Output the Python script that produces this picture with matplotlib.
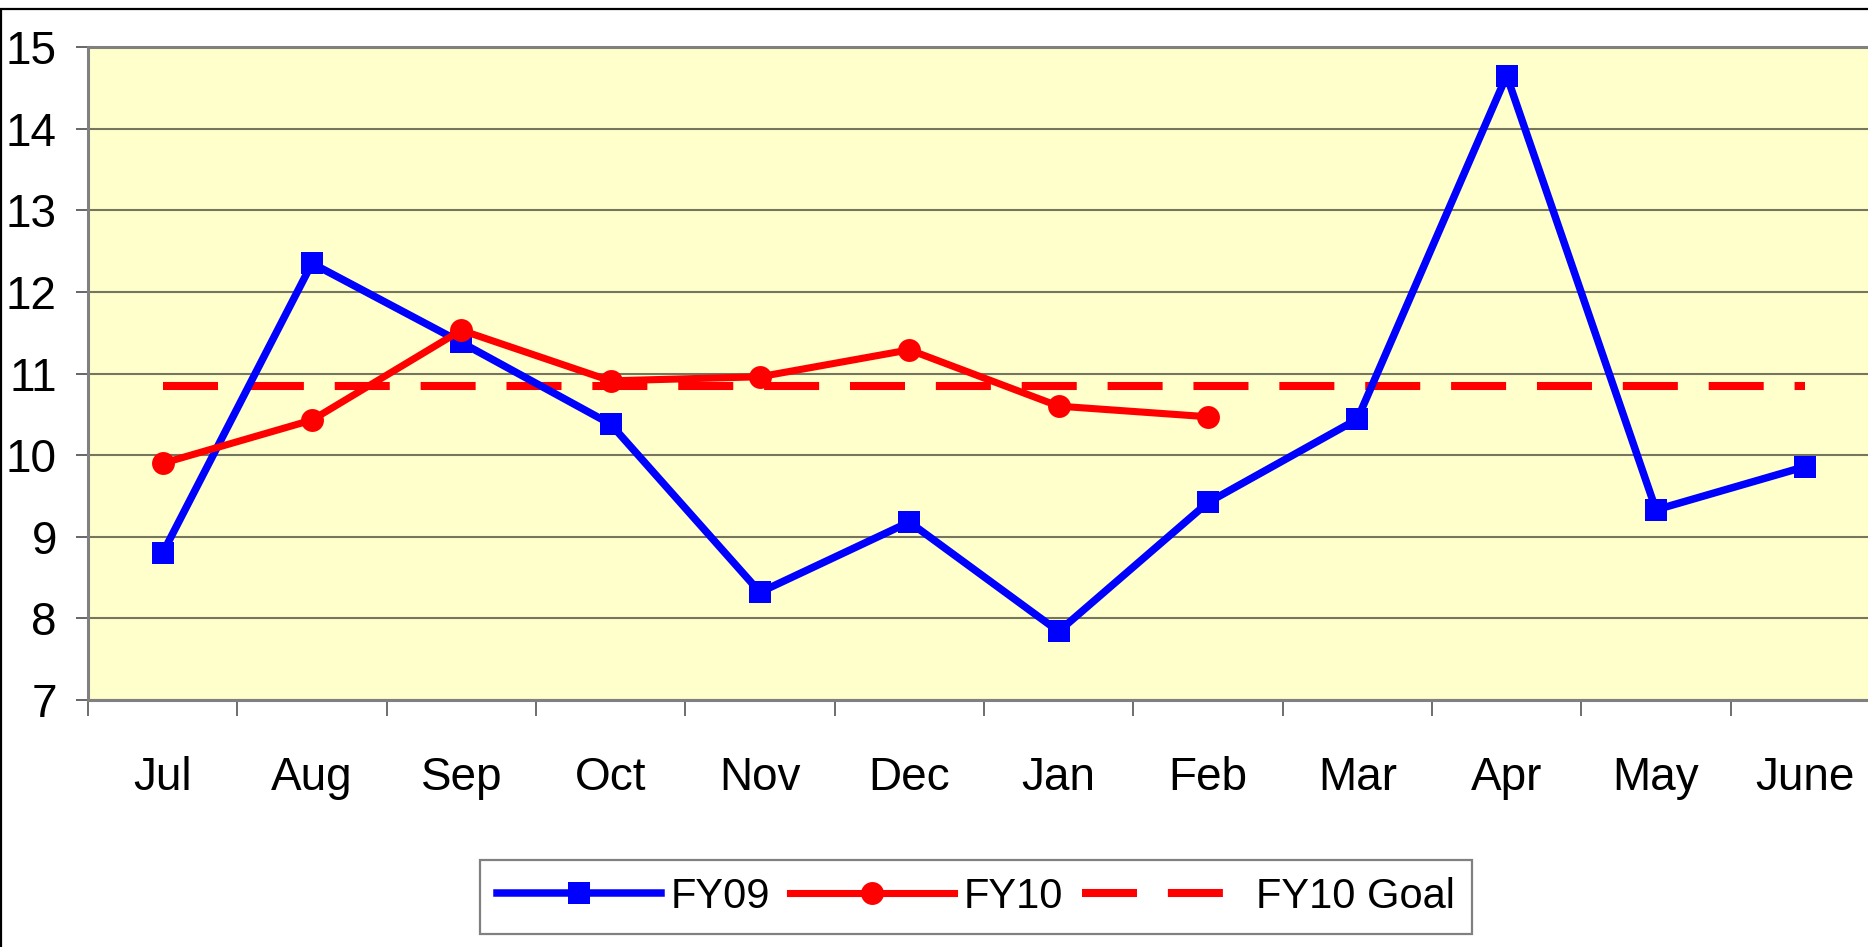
import matplotlib
matplotlib.use("Agg")
import matplotlib.pyplot as plt
from matplotlib import font_manager
from matplotlib.patches import Rectangle
from matplotlib.lines import Line2D

months = ["Jul", "Aug", "Sep", "Oct", "Nov", "Dec", "Jan", "Feb", "Mar", "Apr", "May", "June"]
fy09 = [8.80, 12.35, 11.38, 10.38, 8.32, 9.18, 7.84, 9.42, 10.44, 14.65, 9.33, 9.86]
fy10 = [9.90, 10.43, 11.53, 10.91, 10.96, 11.29, 10.60, 10.47]
goal = 10.85
yticks = [7, 8, 9, 10, 11, 12, 13, 14, 15]

names = {f.name for f in font_manager.fontManager.ttflist}
main_font = "Liberation Sans" if "Liberation Sans" in names else "DejaVu Sans"
plt.rcParams["font.family"] = [main_font, "DejaVu Sans"]

fig = plt.figure(figsize=(18.68, 9.47), dpi=100)
ax = fig.add_axes([88 / 1868, 1 - 700 / 947, (1880 - 88) / 1868, (700 - 47) / 947])
ax.set_facecolor("#FFFFCC")

x = list(range(len(months)))
l3, = ax.plot([x[0], x[-1]], [goal, goal], color="#FF0000", lw=5.8,
              dashes=(6.83, 3.83), dash_capstyle="butt", solid_capstyle="butt",
              label="FY10 Goal", zorder=3)
l1, = ax.plot(x, fy09, color="#0000FF", lw=5.4, marker="s", markersize=16.5,
              markeredgewidth=0, label="FY09", zorder=4)
l2, = ax.plot(x[:len(fy10)], fy10, color="#FF0000", lw=5.1, marker="o", markersize=16.5,
              markeredgewidth=0, label="FY10", zorder=5)

ax.set_xlim(-0.5, len(months) - 0.5)
ax.set_ylim(yticks[0], yticks[-1])
ax.set_yticks(yticks)
ax.set_xticks(x)
ax.set_xticklabels(months)
ax.set_xticks([i - 0.5 for i in range(len(months) + 1)], minor=True)
ax.tick_params(axis="x", which="major", length=0, labelsize=33, pad=40)
ax.tick_params(axis="x", which="minor", length=11.5, width=1.2, color="#555555", direction="out")
ax.tick_params(axis="y", length=8.5, width=1.4, color="#666666", labelsize=33, pad=14)
ax.grid(axis="y", color="#76765E", lw=1.5, zorder=1)
ax.set_axisbelow(True)

for s in ["left", "bottom", "top"]:
    ax.spines[s].set_color("#808080")
    ax.spines[s].set_linewidth(2.2)
ax.spines["right"].set_visible(False)

leg_size = 30
px = leg_size * 100 / 72.0
h1 = Line2D([], [], color="#0000FF", lw=5.4, marker="s", markersize=16.5, markeredgewidth=0)
h2 = Line2D([], [], color="#FF0000", lw=5.1, marker="o", markersize=16.5, markeredgewidth=0)
h3 = Line2D([], [], color="#FF0000", lw=5.8, dashes=(6.83, 3.83), dash_capstyle="butt")
leg = fig.legend(handles=[h1, h2, h3], labels=[l1.get_label(), l2.get_label(), l3.get_label()],
                 loc="center", bbox_to_anchor=(976 / 1868, 1 - 897 / 947),
                 ncol=3, numpoints=1, frameon=True, fancybox=False,
                 edgecolor="#808080", framealpha=1, borderaxespad=0,
                 handlelength=164 / px, handletextpad=10 / px, columnspacing=19 / px,
                 prop={"family": main_font, "size": leg_size}, borderpad=0.4)
leg.get_frame().set_linewidth(1.6)

fig.patches.append(Rectangle((1 / 1868, -0.05), 1.1, 1 - 9 / 947 + 0.05,
                             transform=fig.transFigure, fill=False,
                             edgecolor="black", lw=1.6, zorder=0))

fig.savefig("out.png", dpi=100, facecolor="white")
